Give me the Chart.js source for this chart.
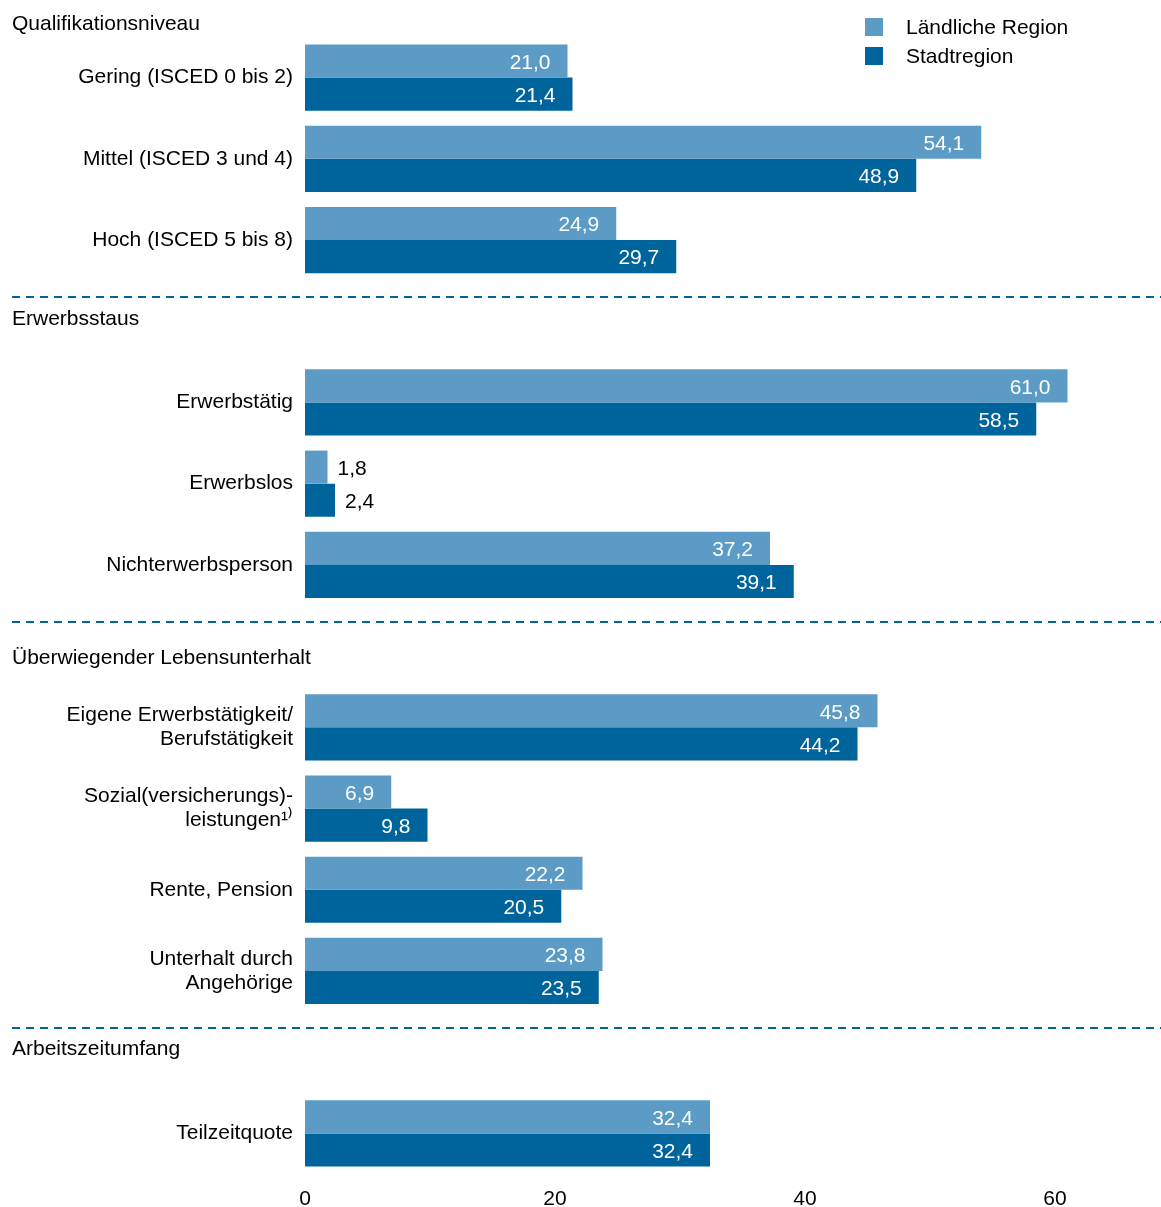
<!DOCTYPE html>
<html>
<head>
<meta charset="utf-8">
<script src="https://cdn.jsdelivr.net/npm/chart.js@4.4.0/dist/chart.umd.min.js"></script>
<style>
  html, body { margin: 0; padding: 0; background: #fff; }
  #wrap { width: 1161px; height: 1207px; position: relative; }
</style>
</head>
<body>
<div id="wrap"><canvas id="chart"></canvas></div>
<script>
// categories, '' = slot reserved for a group heading
var categories = [
    'Gering (ISCED 0 bis 2)', 'Mittel (ISCED 3 und 4)', 'Hoch (ISCED 5 bis 8)', '',
    'Erwerbstätig', 'Erwerbslos', 'Nichterwerbsperson', '',
    ['Eigene Erwerbstätigkeit/', 'Berufstätigkeit'], ['Sozial(versicherungs)-', 'leistungen¹⁾'],
    'Rente, Pension', ['Unterhalt durch', 'Angehörige'], '',
    'Teilzeitquote'
];
var laendlich = [21.0, 54.1, 24.9, null, 61.0, 1.8, 37.2, null, 45.8, 6.9, 22.2, 23.8, null, 32.4];
var stadt     = [21.4, 48.9, 29.7, null, 58.5, 2.4, 39.1, null, 44.2, 9.8, 20.5, 23.5, null, 32.4];
var seriesNames = ['Ländliche Region', 'Stadtregion'];
var xTicks = [0, 20, 40, 60];

var headings = ['Qualifikationsniveau', 'Erwerbsstaus', 'Überwiegender Lebensunterhalt', 'Arbeitszeitumfang'];
var headingSlots = [-1, 3, 7, 12];
var headingOffsets = [28, -2, 12, -3];

var FONT = '"Liberation Sans", Arial, sans-serif';
var LIGHT = '#5b9bc6';
var DARK = '#00649c';

// headings + dashed separators
var groupPlugin = {
    id: 'groups',
    afterDraw: function(chart) {
        var ctx = chart.ctx;
        var y = chart.scales.y;
        var step = y.getPixelForValue(1) - y.getPixelForValue(0);
        ctx.save();
        ctx.font = '21px ' + FONT;
        ctx.textBaseline = 'middle';
        ctx.textAlign = 'left';
        headings.forEach(function(h, i) {
            var cy = y.getPixelForValue(0) + step * headingSlots[i];
            ctx.fillStyle = '#000';
            ctx.fillText(h, 12, cy + headingOffsets[i]);
            if (i > 0) {
                ctx.strokeStyle = DARK;
                ctx.lineWidth = 2;
                ctx.setLineDash([8, 6]);
                ctx.beginPath();
                ctx.moveTo(12, Math.round(cy - 24));
                ctx.lineTo(1161, Math.round(cy - 24));
                ctx.stroke();
            }
        });
        ctx.restore();
    }
};

// value labels on bars
var labelPlugin = {
    id: 'valueLabels',
    afterDatasetsDraw: function(chart) {
        var ctx = chart.ctx;
        ctx.save();
        ctx.font = '21px ' + FONT;
        ctx.textBaseline = 'middle';
        chart.data.datasets.forEach(function(ds, di) {
            chart.getDatasetMeta(di).data.forEach(function(bar, i) {
                var v = ds.data[i];
                if (v === null) return;
                var txt = v.toFixed(1).replace('.', ',');
                var w = ctx.measureText(txt).width;
                if (bar.x - bar.base > w + 26) {
                    ctx.fillStyle = '#fff';
                    ctx.textAlign = 'right';
                    ctx.fillText(txt, bar.x - 17, bar.y + 2);
                } else {
                    ctx.fillStyle = '#000';
                    ctx.textAlign = 'left';
                    ctx.fillText(txt, bar.x + 10, bar.y + 2);
                }
            });
        });
        ctx.restore();
    }
};

// legend top right
var legendPlugin = {
    id: 'myLegend',
    afterDraw: function(chart) {
        var ctx = chart.ctx;
        ctx.save();
        ctx.font = '21px ' + FONT;
        ctx.textBaseline = 'middle';
        ctx.textAlign = 'left';
        chart.data.datasets.forEach(function(ds, i) {
            var y = 27 + i * 29;
            ctx.fillStyle = ds.backgroundColor;
            ctx.fillRect(865, y - 9, 18, 18);
            ctx.fillStyle = '#000';
            ctx.fillText(ds.label, 906, y + 1);
        });
        ctx.restore();
    }
};

new Chart(document.getElementById('chart'), {
    type: 'bar',
    data: {
        labels: categories,
        datasets: [{
            label: seriesNames[0],
            data: laendlich,
            backgroundColor: LIGHT
        }, {
            label: seriesNames[1],
            data: stadt,
            backgroundColor: DARK
        }]
    },
    options: {
        indexAxis: 'y',
        responsive: true,
        maintainAspectRatio: false,
        animation: false,
        layout: { padding: { left: 0, top: 37, right: 0, bottom: 0 } },
        categoryPercentage: 0.815,
        barPercentage: 1,
        plugins: {
            legend: { display: false },
            tooltip: { enabled: false }
        },
        scales: {
            x: {
                min: 0,
                max: 68.48,
                afterBuildTicks: function(axis) {
                    axis.ticks = xTicks.map(function(v) { return { value: v }; });
                },
                afterFit: function(axis) { axis.height = 33; },
                grid: { display: false, drawTicks: false },
                border: { display: false },
                ticks: {
                    color: '#000',
                    padding: 13,
                    maxRotation: 0,
                    font: { family: '"Liberation Sans Narrow", "Liberation Sans", Arial, sans-serif', size: 21 }
                }
            },
            y: {
                afterFit: function(axis) { axis.width = 305; },
                grid: { display: false, drawTicks: false },
                border: { display: false },
                ticks: {
                    color: '#000',
                    padding: 12,
                    font: { family: FONT, size: 21, lineHeight: 1.14 }
                }
            }
        }
    },
    plugins: [groupPlugin, labelPlugin, legendPlugin]
});
</script>
</body>
</html>
